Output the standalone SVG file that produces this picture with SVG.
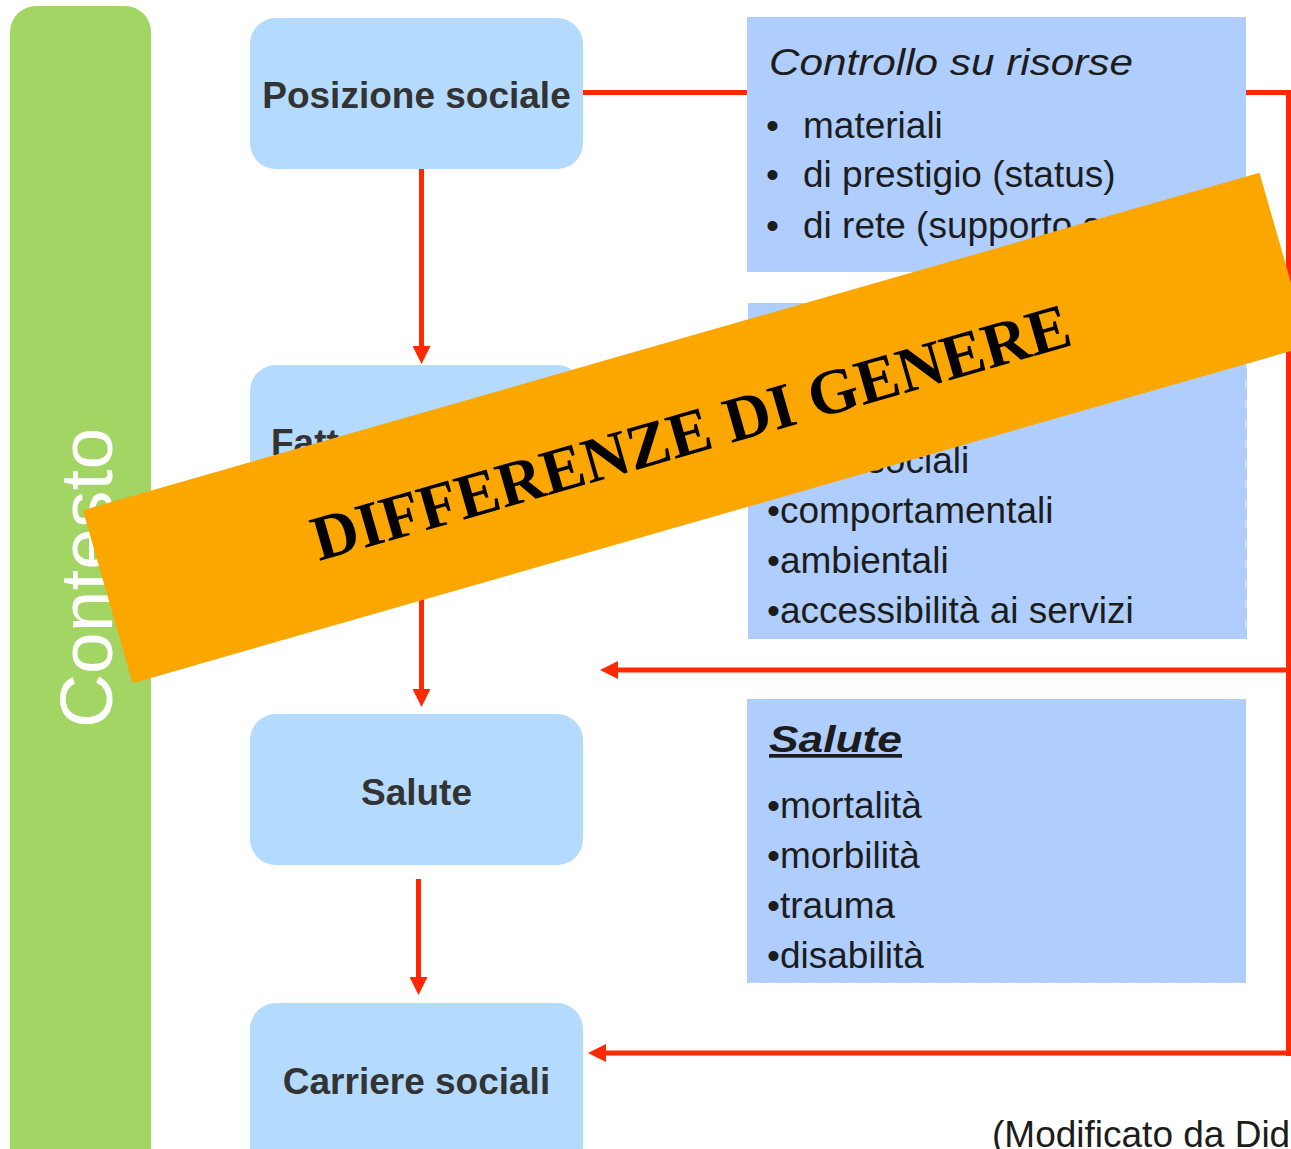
<svg xmlns="http://www.w3.org/2000/svg" width="1291" height="1149" viewBox="0 0 1291 1149">
<style>
.node{fill:#B4DBFE}
.box{fill:#AFCEFD}
.nt{font-family:"Liberation Sans",Arial,sans-serif;font-weight:bold;font-size:37px;fill:#333333;text-anchor:middle}
.bt{font-family:"Liberation Sans",Arial,sans-serif;font-size:37px;fill:#1c1c1c}
.ln{stroke:#FF2800;stroke-width:5;fill:none}
.dash{stroke:#ffffff;stroke-opacity:0.55;stroke-width:1.2;stroke-dasharray:8 12;fill:none}
</style>
<defs>
<marker id="ah" markerUnits="userSpaceOnUse" markerWidth="18" markerHeight="18" viewBox="0 0 18 18" refX="1" refY="9" orient="auto">
<path d="M0,0 L18,9 L0,18 Z" fill="#FF2800"/>
</marker>
</defs>
<rect width="1291" height="1149" fill="#ffffff"/>

<g id="contesto">
<rect x="10" y="6" width="141" height="1170" rx="26" fill="#A2D563"/>
<text transform="translate(112,578) rotate(-90)" font-family="'Liberation Sans',Arial,sans-serif" font-size="75" fill="#ffffff" text-anchor="middle">Contesto</text>
</g>

<g id="connectors">
<line class="ln" x1="583" y1="92.5" x2="760" y2="92.5"/>
<polyline class="ln" points="1230,92.5 1288.5,92.5 1288.5,1056"/>
<line class="ln" x1="1288.5" y1="670" x2="617" y2="670" marker-end="url(#ah)"/>
<line class="ln" x1="1288.5" y1="1053" x2="605" y2="1053" marker-end="url(#ah)"/>
<line class="ln" x1="421.5" y1="168" x2="421.5" y2="347" marker-end="url(#ah)"/>
<line class="ln" x1="421.5" y1="515" x2="421.5" y2="690" marker-end="url(#ah)"/>
<line class="ln" x1="418.5" y1="879" x2="418.5" y2="978" marker-end="url(#ah)"/>
</g>

<g id="posizione">
<rect class="node" x="250" y="18" width="333" height="151" rx="26"/>
<text class="nt" x="416.5" y="108">Posizione sociale</text>
</g>

<g id="fattori">
<rect class="node" x="250" y="365" width="333" height="151" rx="26"/>
<text class="nt" x="271" y="455" style="text-anchor:start">Fattori</text>
</g>

<g id="salute">
<rect class="node" x="250" y="714" width="333" height="151" rx="26"/>
<text class="nt" x="416.5" y="805">Salute</text>
</g>

<g id="carriere">
<rect class="node" x="250" y="1003" width="333" height="170" rx="26"/>
<text class="nt" x="416.5" y="1094">Carriere sociali</text>
</g>

<g id="risorse">
<rect class="box" x="747" y="17" width="499" height="255"/>
<text class="bt" x="769" y="75" font-style="italic" font-size="45" textLength="364" lengthAdjust="spacingAndGlyphs">Controllo su risorse</text>
<text class="bt" x="766" y="138">•</text>
<text class="bt" x="803" y="138">materiali</text>
<text class="bt" x="766" y="187">•</text>
<text class="bt" x="803" y="187">di prestigio (status)</text>
<text class="bt" x="766" y="238">•</text>
<text class="bt" x="803" y="238">di rete (supporto sociale)</text>
</g>

<g id="fattori-dettaglio">
<rect class="box" x="748" y="303" width="499" height="336"/>
<line class="dash" x1="1246" y1="360" x2="1246" y2="636"/>
<text class="bt" x="767" y="473">•psicosociali</text>
<text class="bt" x="767" y="523">•comportamentali</text>
<text class="bt" x="767" y="573">•ambientali</text>
<text class="bt" x="767" y="623">•accessibilità ai servizi</text>
</g>

<g id="salute-dettaglio">
<rect class="box" x="747" y="699" width="499" height="284"/>
<line class="dash" x1="750" y1="983" x2="1244" y2="983"/>
<text class="bt" x="769" y="752" font-weight="bold" font-style="italic" font-size="44" text-decoration="underline" textLength="133" lengthAdjust="spacingAndGlyphs">Salute </text>
<text class="bt" x="767" y="818">•mortalità</text>
<text class="bt" x="767" y="868">•morbilità</text>
<text class="bt" x="767" y="918">•trauma</text>
<text class="bt" x="767" y="968">•disabilità</text>
</g>

<g id="fonte">
<text class="bt" x="992" y="1147" fill="#000000">(Modificato da Did</text>
</g>

<g id="banner" transform="translate(696,428) rotate(-16)">
<rect x="-612" y="-90" width="1224" height="180" fill="#FCA600"/>
<text x="-6" y="24" font-family="'Liberation Serif','Times New Roman',serif" font-weight="bold" font-size="64" fill="#000000" text-anchor="middle">DIFFERENZE DI GENERE</text>
</g>
</svg>
